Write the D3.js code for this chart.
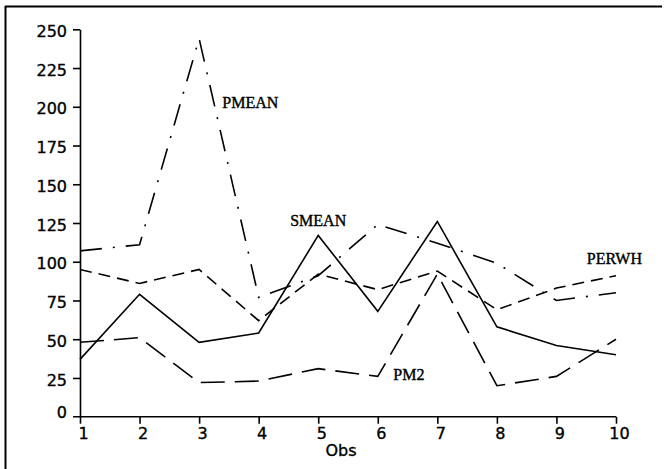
<!DOCTYPE html>
<html>
<head>
<meta charset="utf-8">
<script src="https://cdn.jsdelivr.net/npm/d3@7"></script>
<style>
  html, body { margin: 0; padding: 0; background: #fff; }
  svg { display: block; }
  .tick text, .axislabel { font-family: "DejaVu Sans", sans-serif; font-size: 16px; fill: #000; stroke: #000; stroke-width: 0.35px; }
  .serieslabel { font-family: "Liberation Serif", "Times New Roman", serif; font-size: 16px; fill: #000; stroke: #000; stroke-width: 0.4px; }
</style>
</head>
<body>
<svg id="chart" width="667" height="469"></svg>
<script>
// Observations 1..10 and the four series plotted against them
const obs = [1, 2, 3, 4, 5, 6, 7, 8, 9, 10];
const pmean = [107, 111, 244, 77, 91, 124, 112, 99, 75, 80];
const smean = [37, 79, 48, 54, 117, 68, 126, 58, 46, 40];
const perwh = [95, 86, 95, 62, 92, 82, 94, 69, 83, 91];
const pm2   = [48, 51, 22, 23, 31, 26, 92, 20, 26, 50];
const yTicks = [0, 25, 50, 75, 100, 125, 150, 175, 200, 225, 250];
const xTicks = obs;

const seriesNames = ["PMEAN", "SMEAN", "PERWH", "PM2"];
const seriesValues = [pmean, smean, perwh, pm2];
const seriesDash = ["22,11,2,11", null, "12,7", "24,10"];
// label anchor: [obs position, value] where each name is written
const labelPos = [[3.39, 199], [4.53, 123], [9.51, 98.5], [6.26, 23.7]];

const svg = d3.select("#chart");

// outer frame (top and left edges)
svg.append("line").attr("x1", 5).attr("x2", 662).attr("y1", 6.5).attr("y2", 6.5)
  .attr("stroke", "#000").attr("stroke-width", 2);
svg.append("line").attr("x1", 5.5).attr("x2", 5.5).attr("y1", 6).attr("y2", 469)
  .attr("stroke", "#000").attr("stroke-width", 2);

const x = d3.scaleLinear().domain([1, 10]).range([80, 616]);
const y = d3.scaleLinear().domain([0, 250]).range([416.7, 29.3]);

// y axis, ticks pointing left
const yAxis = d3.axisLeft(y).tickValues(yTicks).tickSize(7).tickSizeOuter(0).tickPadding(6);
const gy = svg.append("g").attr("transform", "translate(80,0)").call(yAxis);
gy.select(".domain").attr("stroke", "#000").attr("stroke-width", 1.6);
gy.selectAll(".tick line").attr("stroke", "#000").attr("stroke-width", 1.6);
gy.selectAll(".tick text").attr("dy", "0.45em");
gy.selectAll(".tick").filter(d => d === 0).select("text").attr("dy", "0.05em");
gy.selectAll(".tick").filter(d => d === 0).select("line").remove();

// x axis, ticks pointing down; the baseline extends left to the y tick length
const xAxis = d3.axisBottom(x).tickValues(xTicks).tickSize(7).tickSizeOuter(0).tickPadding(4);
const gx = svg.append("g").attr("transform", `translate(0,${y(0)})`).call(xAxis);
gx.select(".domain").remove();
gx.append("line").attr("x1", 73).attr("x2", 616).attr("y1", 0).attr("y2", 0)
  .attr("stroke", "#000").attr("stroke-width", 1.6);
gx.selectAll(".tick line").attr("stroke", "#000").attr("stroke-width", 1.6);
gx.selectAll(".tick text").attr("dx", "3");

svg.append("text").attr("class", "axislabel")
  .attr("x", 341).attr("y", 456)
  .attr("text-anchor", "middle")
  .text("Obs");

// series lines
const line = d3.line().x((d, i) => x(obs[i])).y(d => y(d));
seriesValues.forEach((vals, k) => {
  const p = svg.append("path")
    .attr("d", line(vals))
    .attr("fill", "none")
    .attr("stroke", "#000")
    .attr("stroke-width", 1.6)
    .attr("stroke-linejoin", "miter");
  if (seriesDash[k]) p.attr("stroke-dasharray", seriesDash[k]);
});

// series names
seriesNames.forEach((name, k) => {
  svg.append("text").attr("class", "serieslabel")
    .attr("x", x(labelPos[k][0])).attr("y", y(labelPos[k][1]))
    .text(name);
});
</script>
</body>
</html>
